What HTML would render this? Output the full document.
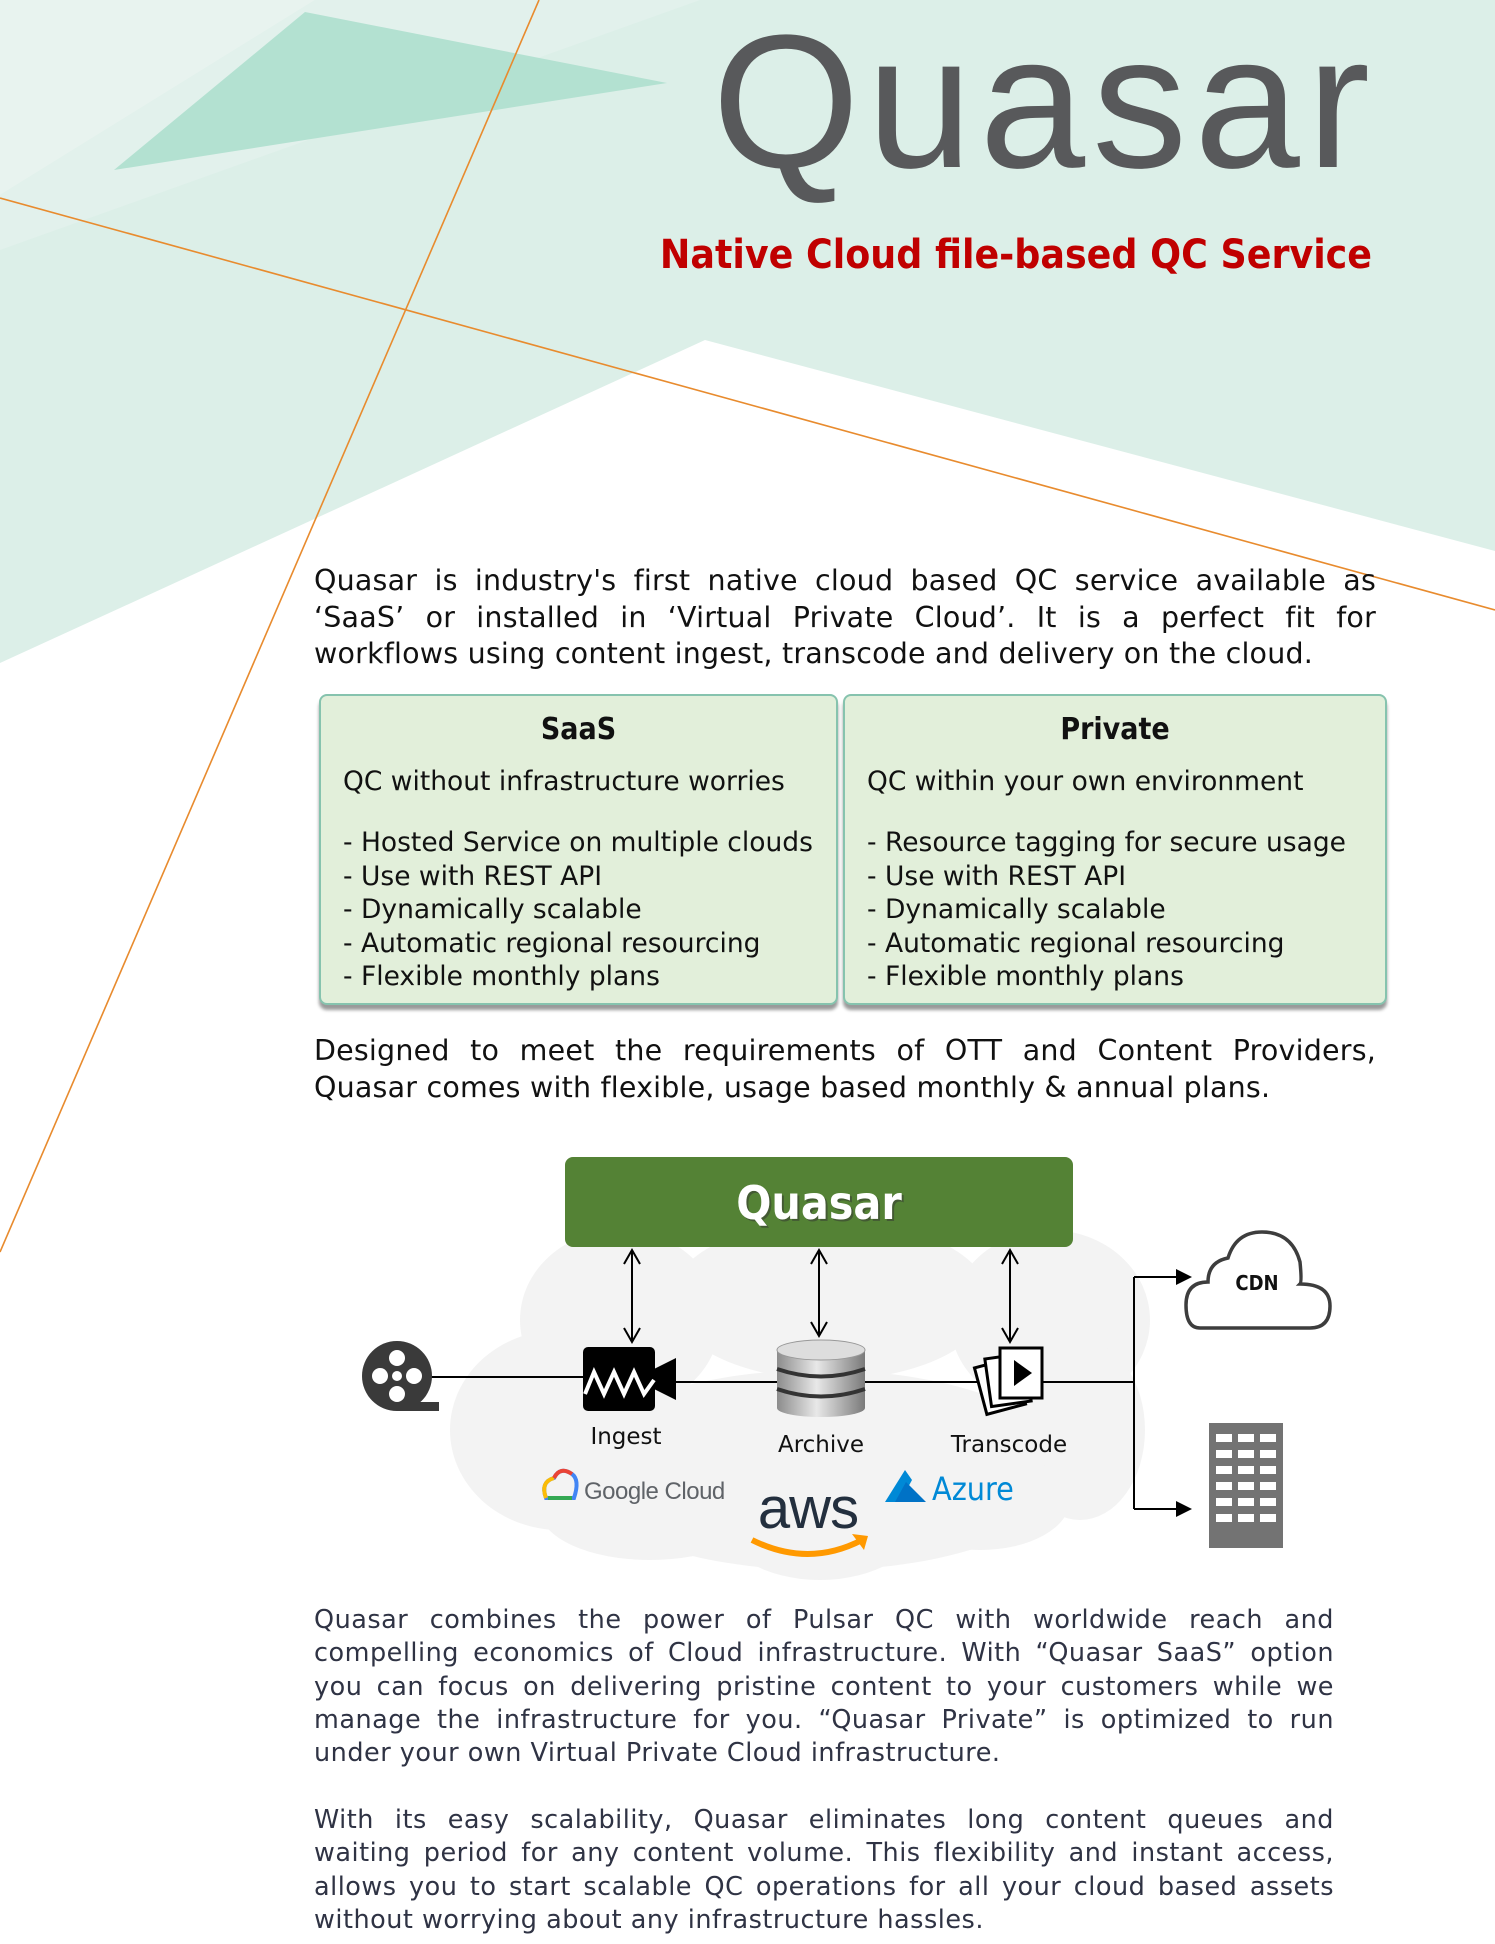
<!DOCTYPE html>
<html><head><meta charset="utf-8"><style>
*{margin:0;padding:0;box-sizing:border-box}
body{width:1495px;height:1944px;position:relative;overflow:hidden;background:#fff;font-family:"DejaVu Sans","Liberation Sans",sans-serif}
.a{position:absolute;white-space:nowrap}
.j{position:absolute;left:314px;width:1062px;text-align:justify;text-align-last:justify;white-space:nowrap;font-size:28.5px;color:#111;line-height:1;letter-spacing:0.2px}
.j.l{text-align-last:left}
.p{position:absolute;left:314px;width:1020px;text-align:justify;text-align-last:justify;white-space:nowrap;font-size:25.5px;color:#2f3344;line-height:1;letter-spacing:0.5px}
.p.l{text-align-last:left}
.box{position:absolute;background:#e2efda;border:2px solid #86c3ae;border-radius:8px;box-shadow:0 5px 3px #9a9a9a}
.box .t{position:absolute;left:0;right:0;text-align:center;font-weight:bold;font-size:30px;color:#111;font-family:"DejaVu Sans Condensed","DejaVu Sans",sans-serif}
.box .s{position:absolute;left:22px;font-size:26.5px;color:#111;white-space:nowrap}
.lab{position:absolute;font-size:23px;color:#111;transform:translateX(-50%);white-space:nowrap}
</style></head><body>
<svg class="a" style="left:0;top:0" width="1495" height="1944">
  <polygon points="0,0 1495,0 1495,551 705,340 0,663" fill="#dcefe8"/>
  <polygon points="0,0 315,0 0,195" fill="#e8f3ef"/>
  <polygon points="0,195 315,0 700,0 0,250" fill="#e2f1ec"/>
  <polygon points="114,170 305,12 667,83" fill="#b3e1d1"/>
  <line x1="539" y1="0" x2="0" y2="1252" stroke="#e88b2e" stroke-width="1.6"/>
  <line x1="0" y1="198" x2="1495" y2="610" stroke="#e88b2e" stroke-width="1.6"/>
</svg>
<div class="a" style="left:712px;top:-7px;font-family:'Liberation Sans',sans-serif;font-size:190px;color:#58595b;letter-spacing:7px">Quasar</div>
<div class="a" style="right:123px;top:230px;font-family:'DejaVu Sans Condensed','Liberation Sans',sans-serif;font-weight:bold;font-size:40.5px;color:#c00000">Native Cloud file-based QC Service</div>

<div class="j" style="top:567px">Quasar is industry's first native cloud based QC service available as</div>
<div class="j" style="top:604px">‘SaaS’ or installed in ‘Virtual Private Cloud’. It is a perfect fit for</div>
<div class="j l" style="top:640px">workflows using content ingest, transcode and delivery on the cloud.</div>

<div class="box" style="left:319px;top:694px;width:519px;height:311px">
  <div class="t" style="top:16px">SaaS</div>
  <div class="s" style="top:70px">QC without infrastructure worries</div>
  <div class="s" style="top:130px;line-height:33.5px">- Hosted Service on multiple clouds<br>- Use with REST API<br>- Dynamically scalable<br>- Automatic regional resourcing<br>- Flexible monthly plans</div>
</div>
<div class="box" style="left:843px;top:694px;width:544px;height:311px">
  <div class="t" style="top:16px">Private</div>
  <div class="s" style="top:70px">QC within your own environment</div>
  <div class="s" style="top:130px;line-height:33.5px">- Resource tagging for secure usage<br>- Use with REST API<br>- Dynamically scalable<br>- Automatic regional resourcing<br>- Flexible monthly plans</div>
</div>

<div class="j" style="top:1037px">Designed to meet the requirements of OTT and Content Providers,</div>
<div class="j l" style="top:1074px">Quasar comes with flexible, usage based monthly &amp; annual plans.</div>

<svg class="a" style="left:0;top:0" width="1495" height="1944">
  <g fill="#f3f3f3">
    <ellipse cx="620" cy="1320" rx="100" ry="90"/>
    <ellipse cx="830" cy="1300" rx="160" ry="80"/>
    <ellipse cx="1050" cy="1320" rx="100" ry="90"/>
    <ellipse cx="560" cy="1430" rx="110" ry="100"/>
    <ellipse cx="1080" cy="1430" rx="65" ry="90"/>
    <ellipse cx="820" cy="1470" rx="250" ry="100"/>
    <ellipse cx="650" cy="1510" rx="110" ry="50"/>
    <ellipse cx="820" cy="1520" rx="100" ry="60"/>
    <ellipse cx="980" cy="1500" rx="90" ry="50"/>
  </g>
  <rect x="565" y="1157" width="508" height="90" rx="8" fill="#548235"/>
  <text x="819" y="1219" text-anchor="middle" font-family="DejaVu Sans Condensed,DejaVu Sans,sans-serif" font-weight="bold" font-size="46" fill="#333" opacity="0.5" transform="translate(2,2)">Quasar</text>
  <text x="819" y="1219" text-anchor="middle" font-family="DejaVu Sans Condensed,DejaVu Sans,sans-serif" font-weight="bold" font-size="46" fill="#fff">Quasar</text>
  <g stroke="#000" stroke-width="2" fill="none">
    <line x1="632" y1="1250" x2="632" y2="1342"/><polyline points="624,1264 632,1250 640,1264"/><polyline points="624,1328 632,1342 640,1328"/>
    <line x1="819" y1="1250" x2="819" y2="1336"/><polyline points="811,1264 819,1250 827,1264"/><polyline points="811,1322 819,1336 827,1322"/>
    <line x1="1010" y1="1250" x2="1010" y2="1342"/><polyline points="1002,1264 1010,1250 1018,1264"/><polyline points="1002,1328 1010,1342 1018,1328"/>
    <line x1="430" y1="1377" x2="585" y2="1377"/>
    <line x1="676" y1="1382" x2="1134" y2="1382"/>
    <line x1="1134" y1="1277" x2="1134" y2="1509"/>
    <line x1="1134" y1="1277" x2="1180" y2="1277"/>
    <line x1="1134" y1="1509" x2="1180" y2="1509"/>
  </g>
  <polygon points="1176,1269 1192,1277 1176,1285" fill="#000"/>
  <polygon points="1176,1501 1192,1509 1176,1517" fill="#000"/>
  <circle cx="397" cy="1376" r="35" fill="#3a3a3a"/>
  <rect x="397" y="1402" width="42" height="9" fill="#3a3a3a"/>
  <g fill="#fff"><circle cx="397" cy="1376" r="5"/><circle cx="397" cy="1358" r="8"/><circle cx="397" cy="1394" r="8"/><circle cx="380" cy="1376" r="8"/><circle cx="414" cy="1376" r="8"/></g>
  <rect x="583" y="1347" width="72" height="64" rx="5" fill="#000"/>
  <polygon points="652,1370 676,1358 676,1400 652,1388" fill="#000"/>
  <polyline points="585,1394 594,1372 604,1394 614,1372 624,1394 634,1372 644,1394 654,1380" stroke="#fff" stroke-width="4" fill="none"/>
  <defs><linearGradient id="db" x1="0" x2="1"><stop offset="0" stop-color="#8c8c8c"/><stop offset="0.45" stop-color="#e8e8e8"/><stop offset="1" stop-color="#7a7a7a"/></linearGradient></defs>
  <rect x="777" y="1350" width="88" height="58" fill="url(#db)"/>
  <ellipse cx="821" cy="1408" rx="44" ry="9" fill="url(#db)"/>
  <ellipse cx="821" cy="1350" rx="44" ry="10" fill="#ddd" stroke="#999"/>
  <path d="M777 1369 Q821 1384 865 1369" stroke="#333" stroke-width="4" fill="none"/>
  <path d="M777 1389 Q821 1404 865 1389" stroke="#333" stroke-width="4" fill="none"/>
  <g stroke="#000" stroke-width="3" fill="#fff">
    <rect x="980" y="1362" width="40" height="48" transform="rotate(-15 1000 1386)"/>
    <rect x="988" y="1356" width="40" height="48" transform="rotate(-8 1008 1380)"/>
    <rect x="1000" y="1348" width="42" height="50"/>
  </g>
  <polygon points="1014,1360 1032,1373 1014,1386" fill="#000"/>
  <path d="M1200 1328 Q1186 1328 1186 1305 Q1186 1282 1208 1282 Q1208 1262 1228 1258 Q1236 1232 1262 1232 Q1292 1232 1300 1262 Q1302 1282 1300 1284 Q1330 1284 1330 1306 Q1330 1328 1310 1328 Z" fill="#fff" stroke="#3d3d3d" stroke-width="3.5"/>
  <text x="1257" y="1290" text-anchor="middle" font-family="DejaVu Sans Condensed,sans-serif" font-weight="bold" font-size="20" fill="#111">CDN</text>
  <rect x="1209" y="1423" width="74" height="125" fill="#737373"/>
  <g fill="#fff">
    <rect x="1216" y="1434" width="16" height="8"/><rect x="1238" y="1434" width="16" height="8"/><rect x="1260" y="1434" width="16" height="8"/>
    <rect x="1216" y="1450" width="16" height="8"/><rect x="1238" y="1450" width="16" height="8"/><rect x="1260" y="1450" width="16" height="8"/>
    <rect x="1216" y="1466" width="16" height="8"/><rect x="1238" y="1466" width="16" height="8"/><rect x="1260" y="1466" width="16" height="8"/>
    <rect x="1216" y="1482" width="16" height="8"/><rect x="1238" y="1482" width="16" height="8"/><rect x="1260" y="1482" width="16" height="8"/>
    <rect x="1216" y="1498" width="16" height="8"/><rect x="1238" y="1498" width="16" height="8"/><rect x="1260" y="1498" width="16" height="8"/>
    <rect x="1216" y="1514" width="16" height="8"/><rect x="1238" y="1514" width="16" height="8"/><rect x="1260" y="1514" width="16" height="8"/>
  </g>
  <path d="M546 1498 Q540 1482 554 1478 Q560 1466 572 1474 Q580 1480 574 1498 Z" fill="none" stroke="#4285f4" stroke-width="4"/>
  <path d="M546 1498 Q540 1482 554 1478" fill="none" stroke="#fbbc05" stroke-width="4"/>
  <path d="M554 1478 Q560 1466 572 1474" fill="none" stroke="#ea4335" stroke-width="4"/>
  <line x1="548" y1="1498" x2="572" y2="1498" stroke="#34a853" stroke-width="4"/>
  <text x="584" y="1499" font-family="Liberation Sans,sans-serif" font-size="24" fill="#5f6368" letter-spacing="-0.5">Google Cloud</text>
  <text x="808" y="1528" text-anchor="middle" font-family="Liberation Sans,sans-serif" font-size="58" fill="#232f3e" letter-spacing="-1">aws</text>
  <path d="M752 1540 Q808 1568 862 1540" stroke="#ff9900" stroke-width="6" fill="none"/>
  <polygon points="852,1534 868,1536 864,1550" fill="#ff9900"/>
  <polygon points="885,1502 905,1470 912,1480 900,1502" fill="#0089d6"/>
  <polygon points="906,1482 926,1502 895,1502" fill="#0072c6"/>
  <text x="932" y="1500" font-family="DejaVu Sans Condensed,sans-serif" font-size="32" fill="#0089d6">Azure</text>
</svg>
<div class="lab" style="left:626px;top:1424px">Ingest</div>
<div class="lab" style="left:821px;top:1432px">Archive</div>
<div class="lab" style="left:1009px;top:1432px">Transcode</div>

<div class="p" style="top:1608px">Quasar combines the power of Pulsar QC with worldwide reach and</div>
<div class="p" style="top:1641px">compelling economics of Cloud infrastructure. With “Quasar SaaS” option</div>
<div class="p" style="top:1675px">you can focus on delivering pristine content to your customers while we</div>
<div class="p" style="top:1708px">manage the infrastructure for you. “Quasar Private” is optimized to run</div>
<div class="p l" style="top:1741px">under your own Virtual Private Cloud infrastructure.</div>
<div class="p" style="top:1808px">With its easy scalability, Quasar eliminates long content queues and</div>
<div class="p" style="top:1841px">waiting period for any content volume. This flexibility and instant access,</div>
<div class="p" style="top:1875px">allows you to start scalable QC operations for all your cloud based assets</div>
<div class="p l" style="top:1908px">without worrying about any infrastructure hassles.</div>
</body></html>
